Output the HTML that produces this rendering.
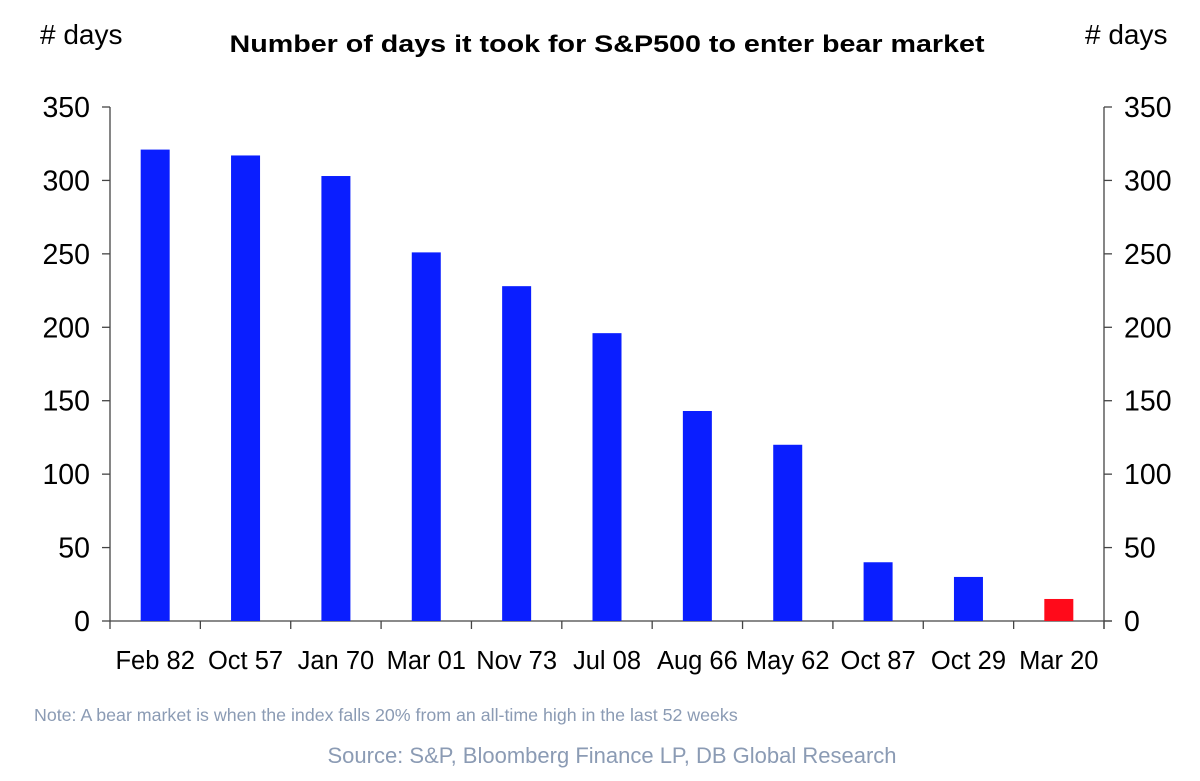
<!DOCTYPE html>
<html><head><meta charset="utf-8"><style>
body{margin:0;background:#fff;}
svg text{font-family:"Liberation Sans",Arial,sans-serif;}
</style></head><body>
<svg id="chart" width="1200" height="776" xmlns="http://www.w3.org/2000/svg">
<text x="607" y="52" text-anchor="middle" font-size="24" font-weight="bold" fill="#000" textLength="755" lengthAdjust="spacingAndGlyphs">Number of days it took for S&amp;P500 to enter bear market</text>
<text x="40" y="44" font-size="28" fill="#000">#&#160;days</text>
<text x="1085" y="44" font-size="28" fill="#000">#&#160;days</text>
<g id="axes"></g>
<g id="bars"></g>
<text x="34" y="721" font-size="17.8" fill="#8b9bb4">Note: A bear market is when the index falls 20% from an all-time high in the last 52 weeks</text>
<text x="612" y="763" text-anchor="middle" font-size="22" fill="#8b9bb4">Source: S&amp;P, Bloomberg Finance LP, DB Global Research</text>
</svg>
<script>
const categories=["Feb 82","Oct 57","Jan 70","Mar 01","Nov 73","Jul 08","Aug 66","May 62","Oct 87","Oct 29","Mar 20"];
const values=[321,317,303,251,228,196,143,120,40,30,15];
const highlight=[false,false,false,false,false,false,false,false,false,false,true];
const yTicks=[0,50,100,150,200,250,300,350];
const NS="http://www.w3.org/2000/svg";
const X0=110,X1=1104,Y0=621,Y1=107,YMAX=350;
const band=(X1-X0)/categories.length;
const y=v=>Y0-(v/YMAX)*(Y0-Y1);
const xc=i=>X0+band*(i+0.5);
function mk(tag,attrs,parent){const e=document.createElementNS(NS,tag);for(const k in attrs)e.setAttribute(k,attrs[k]);parent.appendChild(e);return e;}
const axes=document.getElementById('axes'),bars=document.getElementById('bars');
let l=mk('line',{x1:X0,y1:Y1,x2:X0,y2:Y0,stroke:'#444','stroke-width':1.3},axes);


l=mk('line',{x1:X1,y1:Y1,x2:X1,y2:Y0+8,stroke:'#444','stroke-width':1.3},axes);


l=mk('line',{x1:X0,y1:Y0,x2:X1+8,y2:Y0,stroke:'#444','stroke-width':1.3},axes);


yTicks.forEach(t=>{
  mk('line',{x1:X0-8,y1:y(t),x2:X0,y2:y(t),stroke:'#444','stroke-width':1.3},axes);
  mk('line',{x1:X1,y1:y(t),x2:X1+8,y2:y(t),stroke:'#444','stroke-width':1.3},axes);
  let a=mk('text',{x:X0-20,y:y(t)+10,'text-anchor':'end','font-size':28.5,fill:'#000'},axes);a.textContent=t;
  
  
  let b=mk('text',{x:X1+20,y:y(t)+10,'font-size':28.5,fill:'#000'},axes);b.textContent=t;
  
  
});
for(let i=0;i<=categories.length;i++){mk('line',{x1:X0+band*i,y1:Y0,x2:X0+band*i,y2:Y0+8,stroke:'#444','stroke-width':1.3},axes);}
categories.forEach((c,i)=>{
  const r=mk('rect',{x:xc(i)-14.5,y:y(values[i]),width:29,height:Y0-y(values[i]),fill:highlight[i]?'#ff0a1a':'#0a1eff'},bars);
  
  
  const t=mk('text',{x:xc(i),y:669,'text-anchor':'middle','font-size':25.5,fill:'#000'},axes);t.textContent=c;
  
  
});
</script>
</body></html>
